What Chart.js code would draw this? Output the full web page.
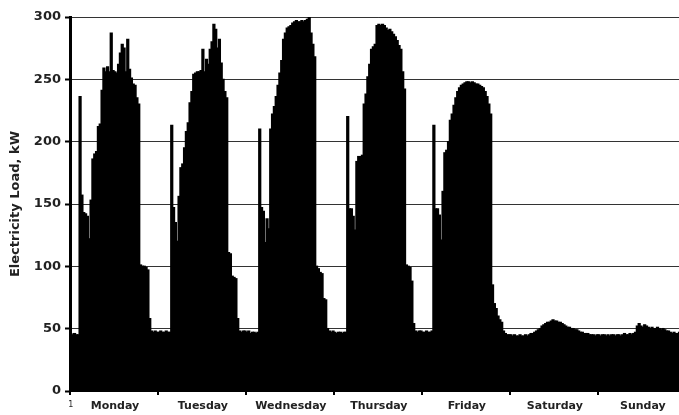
<!DOCTYPE html>
<html>
<head>
<meta charset="utf-8">
<script src="https://cdn.jsdelivr.net/npm/chart.js@4.4.1/dist/chart.umd.min.js"></script>
<style>
  html, body { margin: 0; padding: 0; background: #fff; overflow: hidden; }
  #wrap { width: 690px; height: 415px; position: relative; }
</style>
</head>
<body>
<div id="wrap"><canvas id="load"></canvas></div>
<script>
// half-hourly load, kW (48 readings per day)
const days = ['Monday', 'Tuesday', 'Wednesday', 'Thursday', 'Friday', 'Saturday', 'Sunday'];
const monday = [46,45,46,45,45,236,157,143,142,140,122,153,186,190,192,212,214,241,259,256,260,256,287,257,256,255,262,271,278,275,256,282,258,251,246,245,235,230,101,100,100,99,97,58,48,47,48,47];
const tuesday = [47,48,47,47,48,47,47,213,147,135,120,156,179,182,195,208,215,231,240,254,255,256,256,257,274,256,266,262,274,280,294,290,275,282,263,250,240,235,111,110,92,91,90,58,48,47,48,48];
const wednesday = [47,48,46,47,47,46,47,210,147,144,119,138,130,210,222,228,236,245,255,265,282,287,291,292,293,295,296,297,296,296,297,296,297,298,300,287,278,268,100,98,95,94,74,73,50,48,47,48];
const thursday = [47,46,47,47,46,47,47,220,146,146,140,129,184,188,188,189,230,238,252,262,274,276,278,293,294,293,294,293,291,289,290,288,286,284,281,277,274,256,242,101,100,99,88,54,48,47,48,48];
const friday = [47,47,48,47,47,48,213,146,146,141,121,160,191,193,200,217,222,229,235,240,243,245,246,247,248,248,247,248,247,246,246,245,244,243,240,236,230,222,85,70,66,60,57,55,48,46,45,45];
const saturday = [45,44,45,44,44,45,44,44,45,44,45,46,46,47,48,49,50,52,53,54,55,55,56,57,56,56,55,55,54,53,52,51,51,50,50,49,49,48,47,47,46,46,46,45,45,45,44,45];
const sunday = [45,44,45,45,44,45,44,45,45,44,45,45,44,45,46,45,45,46,45,46,47,52,54,52,51,53,52,51,50,51,50,50,51,50,49,50,49,48,48,47,46,47,46,46,47,46,46,45];

const perDay = 48;
const loads = [].concat(monday, tuesday, wednesday, thursday, friday, saturday, sunday);
const slots = loads.map((v, i) => String(i + 1));

const ctx = document.getElementById('load');
new Chart(ctx, {
    type: 'bar',
    data: {
        labels: slots,
        datasets: [{
            label: 'Electricity Load',
            data: loads,
            backgroundColor: '#000',
            borderWidth: 0,
            inflateAmount: 0.7,
            barPercentage: 1,
            categoryPercentage: 1
        }]
    },
    options: {
        responsive: true,
        maintainAspectRatio: false,
        animation: false,
        layout: { padding: { top: 17, left: 0, right: 0, bottom: 0 } },
        plugins: {
            legend: { display: false },
            tooltip: { enabled: false }
        },
        scales: {
            x: {
                grid: {
                    drawOnChartArea: false,
                    tickLength: 4,
                    tickWidth: 2,
                    lineWidth: 0,
                    tickColor: c => (c.index % perDay === 0 ? '#000' : 'rgba(0,0,0,0)')
                },
                border: { color: '#000', width: 1 },
                ticks: {
                    autoSkip: false,
                    maxRotation: 0,
                    minRotation: 0,
                    padding: 5,
                    color: '#222',
                    font: c => (c.index === 0
                        ? { family: 'DejaVu Sans', size: 8 }
                        : { family: 'DejaVu Sans', size: 11, weight: 'bold' }),
                    callback: (v, i) => {
                        if (i === 0) return '1';
                        if (i % perDay === perDay / 2) return days[(i - perDay / 2) / perDay];
                        return '';
                    }
                },
                afterFit: s => { s.height = 24; }
            },
            y: {
                min: 0,
                max: 300,
                ticks: {
                    stepSize: 50,
                    padding: 4,
                    color: '#222',
                    font: { family: 'DejaVu Sans', size: 13, weight: 'bold' }
                },
                grid: {
                    color: '#333',
                    lineWidth: 1,
                    tickLength: 5,
                    tickWidth: 2,
                    tickColor: '#000'
                },
                border: { color: '#000', width: 3 },
                title: {
                    display: true,
                    text: 'Electricity Load, kW',
                    color: '#222',
                    font: { family: 'DejaVu Sans', size: 13, weight: 'bold' },
                    padding: { top: 8, bottom: 0 }
                },
                afterFit: s => { s.width = 70; }
            }
        }
    }
});
</script>
</body>
</html>
